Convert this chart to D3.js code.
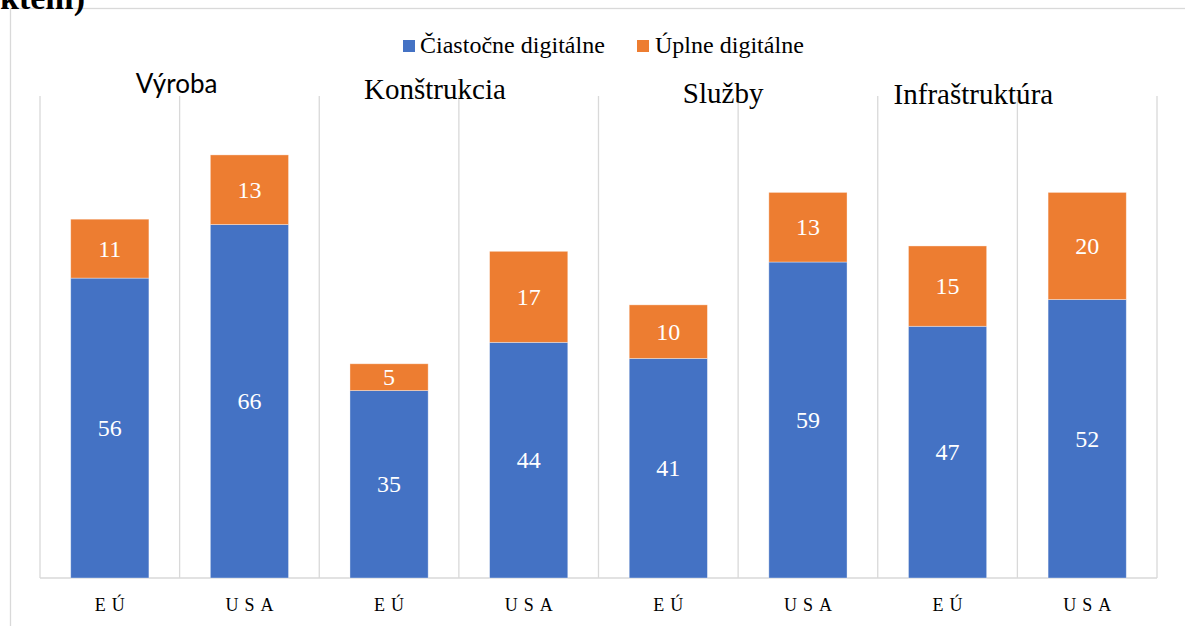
<!DOCTYPE html>
<html><head><meta charset="utf-8">
<script src="https://cdn.jsdelivr.net/npm/d3@7"></script>
<style>
  html, body { margin: 0; padding: 0; background: #fff; }
  svg { display: block; }
</style></head>
<body>
<svg id="s" width="1185" height="626"></svg>
<script>
// ---- data ----
const groups = ["Výroba", "Konštrukcia", "Služby", "Infraštruktúra"];
const regions = ["EÚ", "USA"];
const partialValues = [56, 66, 35, 44, 41, 59, 47, 52]; // Čiastočne digitálne
const fullValues = [11, 13, 5, 17, 10, 13, 15, 20];     // Úplne digitálne
const seriesNames = ["Čiastočne digitálne", "Úplne digitálne"];
const yTicks = [0, 90];

// ---- layout ----
const plot = { left: 40, right: 1157, top: 96, bottom: 578 };
const colors = ["#4472C4", "#ED7D31"];
const gridColor = "#d9d9d9";
const SERIF = "Liberation Serif";
const SANS = "Lato";
const BASE = 18; // base font size; larger serif text is scaled from it
const groupLabelLayout = [
  { dx: -3, y: 93, fam: SANS, size: 26 },
  { dx: -24, y: 99, fam: SERIF, size: 29 },
  { dx: -15, y: 103, fam: SERIF, size: 29 },
  { dx: -44, y: 104, fam: SERIF, size: 29 }
];

const s = d3.select("#s");

function addText(xp, yp, size, fam, str, opts) {
  opts = opts || {};
  const t = s.append("text");
  if (opts.anchor) t.attr("text-anchor", opts.anchor);
  if (opts.fill) t.attr("fill", opts.fill);
  if (opts.weight) t.attr("font-weight", opts.weight);
  t.attr("letter-spacing", opts.ls != null ? opts.ls : 0.01);
  if (fam === SERIF && size !== BASE && !opts.weight) {
    t.attr("transform", `translate(${xp},${yp}) scale(${size / BASE})`)
     .attr("x", 0).attr("y", 0).attr("font-size", BASE);
  } else {
    t.attr("x", xp).attr("y", yp).attr("font-size", size);
  }
  t.attr("font-family", fam).text(str);
  return t;
}

// outer chart border
s.append("rect")
  .attr("x", 10.5).attr("y", 8.5).attr("width", 1300).attr("height", 800)
  .attr("fill", "#fff").attr("stroke", gridColor).attr("stroke-width", 1.3);

const keys = [];
groups.forEach(g => regions.forEach(r => keys.push(g + "|" + r)));
const rows = keys.map((k, i) => ({ key: k, partial: partialValues[i], full: fullValues[i] }));

const x = d3.scaleBand().domain(keys).range([plot.left, plot.right]).padding(0);
const xGroup = d3.scaleBand().domain(groups).range([plot.left, plot.right]).padding(0);
const y = d3.scaleLinear().domain([yTicks[0], yTicks[yTicks.length - 1]]).range([plot.bottom, plot.top]);

// vertical category separators
const bounds = keys.map(k => x(k)).concat([plot.right]);
bounds.forEach(b => {
  s.append("line").attr("x1", b).attr("x2", b)
    .attr("y1", y(yTicks[yTicks.length - 1])).attr("y2", y(0))
    .attr("stroke", gridColor).attr("stroke-width", 1.3);
});

// bottom axis line and category labels
s.append("line").attr("x1", plot.left).attr("x2", plot.right)
  .attr("y1", y(0)).attr("y2", y(0))
  .attr("stroke", gridColor).attr("stroke-width", 1.3);
keys.forEach(k => {
  addText(x(k) + x.bandwidth() / 2 + 3, y(0) + 33, BASE, SERIF, k.split("|")[1],
    { anchor: "middle", fill: "#000", ls: 6 });
});

// stacked bars
const stacked = d3.stack().keys(["partial", "full"])(rows);
const barFrac = 0.56;
const bw = x.bandwidth() * barFrac;
const off = (x.bandwidth() - bw) / 2;

stacked.forEach((layer, li) => {
  layer.forEach(d => {
    s.append("rect")
      .attr("x", x(d.data.key) + off).attr("width", bw)
      .attr("y", y(d[1])).attr("height", y(d[0]) - y(d[1]))
      .attr("fill", colors[li])
      .attr("stroke", "#fff").attr("stroke-opacity", 0.45).attr("stroke-width", 0.8);
  });
});
stacked.forEach(layer => {
  layer.forEach(d => {
    addText(x(d.data.key) + x.bandwidth() / 2, (y(d[0]) + y(d[1])) / 2 + 8, 24, SERIF,
      d[1] - d[0], { anchor: "middle", fill: "#fff" });
  });
});

// group labels
groups.forEach((g, i) => {
  const L = groupLabelLayout[i];
  addText(xGroup(g) + xGroup.bandwidth() / 2 + L.dx, L.y, L.size, L.fam, g,
    { anchor: "middle", fill: "#000" });
});

// legend
const legendItems = [
  { name: seriesNames[0], color: colors[0], sx: 403, tx: 420 },
  { name: seriesNames[1], color: colors[1], sx: 637, tx: 655 }
];
legendItems.forEach(d => {
  s.append("rect").attr("x", d.sx).attr("y", 40).attr("width", 12).attr("height", 12).attr("fill", d.color);
  addText(d.tx, 53, 24, SERIF, d.name, { fill: "#000" });
});

// stray caption fragment at the top (cropped, as in the source)
addText(0, 9, 34, SERIF, "ktem)", { fill: "#000", weight: "bold" });
</script></body></html>
